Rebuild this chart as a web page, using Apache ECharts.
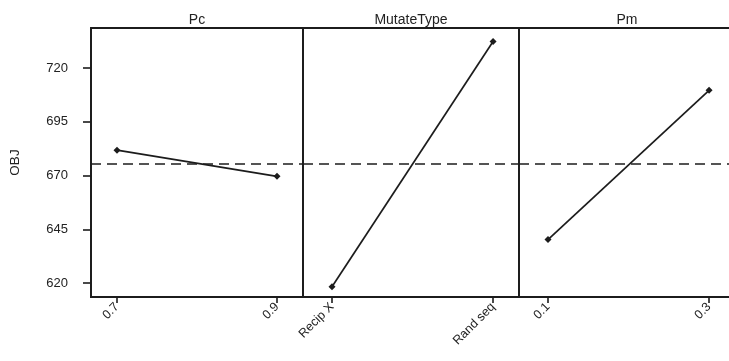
<!DOCTYPE html>
<html><head><meta charset="utf-8">
<script src="https://cdn.jsdelivr.net/npm/echarts@6/dist/echarts.min.js"></script>
<style>html,body{margin:0;padding:0;background:#fff}#c{width:729px;height:361px}</style>
</head><body><div id="c"></div>
<script>
// ---- data ----
const factors = ['Pc', 'MutateType', 'Pm'];
const pcLevels = ['0.7', '0.9'];
const mutateLevels = ['Recip X', 'Rand seq'];
const pmLevels = ['0.1', '0.3'];
const pcMeans = [681.8, 669.6];
const mutateMeans = [618.3, 732.3];
const pmMeans = [640.2, 709.6];
const grandMean = 675.5;
const yTicks = [620, 645, 670, 695, 720];
const yAxisName = 'OBJ';

// ---- layout ----
const levels = [pcLevels, mutateLevels, pmLevels];
const means = [pcMeans, mutateMeans, pmMeans];
const panelLeft = [91, 303, 519];
const panelWidth = [212, 216, 216];
const xPad = [[0.1625, 0.1625], [0.18, 0.161], [0.18, 0.161]];
const gridTop = 28, gridHeight = 269;
const yMin = 613.5, yMax = 738.6;
const ink = '#1c1c1c';
const font = 'Liberation Sans, Arial, sans-serif';

const grids = [], xAxes = [], yAxes = [], series = [], graphics = [];
factors.forEach((f, i) => {
  grids.push({
    left: panelLeft[i], top: gridTop, width: panelWidth[i], height: gridHeight,
    show: true, borderColor: ink, borderWidth: 1.8, backgroundColor: 'transparent',
    containLabel: false, outerBoundsMode: 'none'
  });
  const idx = levels[i].map((_, k) => k);
  xAxes.push({
    type: 'value', gridIndex: i, min: -xPad[i][0], max: 1 + xPad[i][1],
    axisLine: { show: true, onZero: false, lineStyle: { color: ink, width: 1.8 } },
    axisTick: { show: true, inside: false, length: 6, customValues: idx, lineStyle: { color: ink, width: 1.6 } },
    axisLabel: {
      show: true, customValues: idx, rotate: 45, margin: 8,
      fontSize: 12.5, color: '#222', fontFamily: font,
      formatter: v => levels[i][Math.round(v)]
    },
    splitLine: { show: false }
  });
  yAxes.push({
    type: 'value', gridIndex: i, min: yMin, max: yMax,
    name: i === 0 ? yAxisName : '', nameLocation: 'middle', nameGap: 69,
    nameTextStyle: { fontSize: 13.5, color: '#222', fontFamily: font },
    axisLine: { show: i === 0, onZero: false, lineStyle: { color: ink, width: 1.8 } },
    axisTick: { show: i === 0, inside: false, length: 8, customValues: yTicks, lineStyle: { color: ink, width: 1.6 } },
    axisLabel: { show: i === 0, customValues: yTicks, margin: 23, fontSize: 13, color: '#222', fontFamily: font },
    splitLine: { show: false }
  });
  series.push({
    type: 'line', xAxisIndex: i, yAxisIndex: i,
    data: means[i].map((v, k) => [k, v]),
    symbol: 'diamond', symbolSize: 7,
    lineStyle: { color: ink, width: 1.7 },
    itemStyle: { color: ink },
    markLine: {
      silent: true, symbol: 'none', label: { show: false },
      lineStyle: { color: ink, width: 1.5, type: [10, 6] },
      data: [{ yAxis: grandMean }]
    }
  });
  graphics.push({
    type: 'text', x: panelLeft[i] + panelWidth[i] / 2, y: 20,
    style: { text: f, textAlign: 'center', textVerticalAlign: 'middle', fontSize: 14, fill: '#222', fontFamily: font }
  });
});

const chart = echarts.init(document.getElementById('c'), null, { renderer: 'canvas' });
chart.setOption({
  animation: false,
  backgroundColor: '#fff',
  grid: grids, xAxis: xAxes, yAxis: yAxes, series: series, graphic: graphics
});
</script>
</body></html>
